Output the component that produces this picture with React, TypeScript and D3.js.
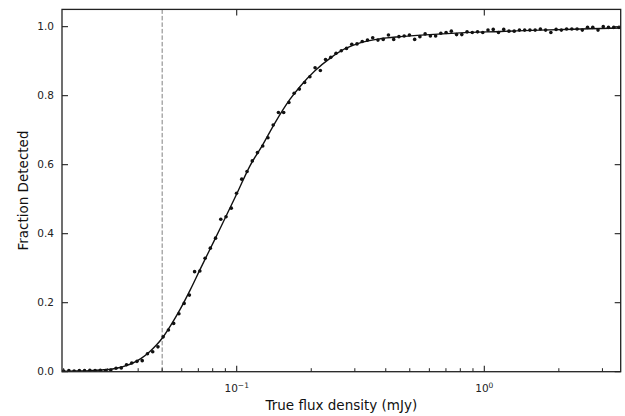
import React from "react";
import * as d3 from "d3";

// Measured points: true flux density (mJy) and fraction detected
const fluxValues = [
  0.02, 0.021, 0.02205, 0.02315, 0.0243, 0.02552, 0.02679, 0.02813, 0.02953, 0.03101,
  0.03256, 0.03418, 0.03589, 0.03768, 0.03956, 0.04154, 0.04361, 0.04579, 0.04808, 0.05048,
  0.053, 0.05564, 0.05842, 0.06134, 0.0644, 0.06761, 0.07099, 0.07453, 0.07825, 0.08216,
  0.08626, 0.09057, 0.09509, 0.09984, 0.1048, 0.1101, 0.1156, 0.1213, 0.1274, 0.1337,
  0.1404, 0.1474, 0.1548, 0.1625, 0.1706, 0.1791, 0.1881, 0.1975, 0.2073, 0.2177,
  0.2285, 0.2399, 0.2519, 0.2645, 0.2777, 0.2916, 0.3061, 0.3214, 0.3375, 0.3543,
  0.372, 0.3906, 0.4101, 0.4306, 0.4521, 0.4747, 0.4984, 0.5233, 0.5494, 0.5768,
  0.6056, 0.6359, 0.6676, 0.7009, 0.7359, 0.7726, 0.8112, 0.8517, 0.8942, 0.9388,
  0.9857, 1.0349, 1.0866, 1.1408, 1.1978, 1.2576, 1.3204, 1.3863, 1.4555, 1.5282,
  1.6045, 1.6846, 1.7687, 1.857, 1.9497, 2.047, 2.1492, 2.2565, 2.3692, 2.4875,
  2.6117, 2.7421, 2.879, 3.0227, 3.1736, 3.3321, 3.4984,
];
const fractionValues = [
  0.002, 0.003, 0.002, 0.003, 0.003, 0.004, 0.003, 0.004, 0.003, 0.005,
  0.010, 0.011, 0.020, 0.025, 0.030, 0.032, 0.052, 0.058, 0.072, 0.101,
  0.121, 0.140, 0.168, 0.198, 0.222, 0.290, 0.292, 0.329, 0.358, 0.387,
  0.442, 0.449, 0.474, 0.517, 0.558, 0.580, 0.611, 0.635, 0.654, 0.678,
  0.715, 0.751, 0.751, 0.780, 0.807, 0.819, 0.838, 0.855, 0.881, 0.873,
  0.905, 0.911, 0.923, 0.930, 0.937, 0.949, 0.950, 0.957, 0.961, 0.968,
  0.961, 0.963, 0.976, 0.963, 0.971, 0.973, 0.976, 0.963, 0.971, 0.979,
  0.973, 0.973, 0.981, 0.983, 0.987, 0.977, 0.977, 0.985, 0.983, 0.985,
  0.983, 0.990, 0.992, 0.983, 0.992, 0.987, 0.987, 0.990, 0.990, 0.990,
  0.990, 0.993, 0.990, 0.983, 0.992, 0.990, 0.993, 0.993, 0.993, 0.990,
  0.998, 0.998, 0.990, 1.000, 0.998, 0.998, 0.998,
];

// Fitted completeness curve
const fitFlux = [
  0.0197, 0.0225, 0.0255, 0.0285, 0.0315, 0.0345, 0.0375, 0.041, 0.0445, 0.0475,
  0.05, 0.054, 0.059, 0.065, 0.071, 0.078, 0.086, 0.1, 0.113, 0.127,
  0.143, 0.164, 0.18, 0.207, 0.238, 0.274, 0.315, 0.38, 0.457, 0.6,
  0.8, 1.16, 1.68, 2.44, 3.555,
];
const fitFraction = [
  0.001, 0.002, 0.003, 0.005, 0.008, 0.014, 0.023, 0.038, 0.058, 0.078,
  0.097, 0.133, 0.18, 0.238, 0.295, 0.355, 0.417, 0.515, 0.596, 0.656,
  0.722, 0.789, 0.826, 0.872, 0.908, 0.936, 0.953, 0.965, 0.971, 0.977,
  0.982, 0.986, 0.99, 0.993, 0.996,
];

const limitFlux = 0.05;
const xDomain = [0.0197, 3.555];
const yDomain = [0, 1.05];
const yTicks = [0, 0.2, 0.4, 0.6, 0.8, 1.0];
const xMajorTicks = [0.1, 1];
const xMajorLabels = ["\u22121", "0"];
const xMinorTicks = [
  0.02, 0.03, 0.04, 0.05, 0.06, 0.07, 0.08, 0.09,
  0.2, 0.3, 0.4, 0.5, 0.6, 0.7, 0.8, 0.9, 2, 3,
];

const W = 625;
const H = 416;
const left = 62;
const right = 620.7;
const top = 9.4;
const bottom = 371.7;
const FONT = "DejaVu Sans, sans-serif";

export default function App() {
  const x = d3.scaleLog().domain(xDomain).range([left, right]);
  const y = d3.scaleLinear().domain(yDomain).range([bottom, top]);

  const line = d3
    .line<number>()
    .x((_, i) => x(fitFlux[i]))
    .y((d) => y(d))
    .curve(d3.curveMonotoneX);

  const major = 6;
  const minor = 3.5;
  const axisColor = "#222";

  return (
    <svg
      width={W}
      height={H}
      style={{ position: "absolute", left: 0, top: 0, background: "#fff" }}
      fontFamily={FONT}
    >
      <defs>
        <clipPath id="plotclip">
          <rect x={left} y={top} width={right - left} height={bottom - top} />
        </clipPath>
      </defs>

      {/* dashed limit */}
      <line
        x1={x(limitFlux)}
        x2={x(limitFlux)}
        y1={top}
        y2={bottom}
        stroke="#808080"
        strokeWidth={1}
        strokeDasharray="4.5,2"
      />

      <g clipPath="url(#plotclip)">
        <path d={line(fitFraction) || ""} fill="none" stroke="#111" strokeWidth={1.4} />
        {fluxValues.map((f, i) => (
          <circle key={i} cx={x(f)} cy={y(fractionValues[i])} r={1.8} fill="#111" />
        ))}
      </g>

      {/* frame */}
      <rect
        x={left}
        y={top}
        width={right - left}
        height={bottom - top}
        fill="none"
        stroke={axisColor}
        strokeWidth={1.3}
      />

      {/* y ticks left & right */}
      {yTicks.map((t) => (
        <g key={"y" + t}>
          <line x1={left} x2={left + major} y1={y(t)} y2={y(t)} stroke={axisColor} strokeWidth={1.1} />
          <line x1={right} x2={right - major} y1={y(t)} y2={y(t)} stroke={axisColor} strokeWidth={1.1} />
          <text
            x={left - 8}
            y={y(t)}
            dy="0.35em"
            textAnchor="end"
            fontSize={10.5}
            fill="#222"
          >
            {t.toFixed(1)}
          </text>
        </g>
      ))}

      {/* x major ticks bottom & top */}
      {xMajorTicks.map((t, i) => (
        <g key={"x" + t}>
          <line x1={x(t)} x2={x(t)} y1={bottom} y2={bottom - major} stroke={axisColor} strokeWidth={1.1} />
          <line x1={x(t)} x2={x(t)} y1={top} y2={top + major} stroke={axisColor} strokeWidth={1.1} />
          <text x={x(t)} y={392} textAnchor="middle" fontSize={10.5} fill="#222">
            <tspan>10</tspan>
            <tspan dy={-4.5} fontSize={7.5}>
              {xMajorLabels[i]}
            </tspan>
          </text>
        </g>
      ))}

      {/* x minor ticks bottom */}
      {xMinorTicks.map((t) => (
        <line
          key={"m" + t}
          x1={x(t)}
          x2={x(t)}
          y1={bottom}
          y2={bottom - minor}
          stroke={axisColor}
          strokeWidth={1}
        />
      ))}

      {/* axis labels */}
      <text
        x={(left + right) / 2}
        y={410}
        textAnchor="middle"
        fontSize={13.5}
        fill="#111"
      >
        True flux density (mJy)
      </text>
      <text
        transform={`translate(28, ${(top + bottom) / 2}) rotate(-90)`}
        textAnchor="middle"
        fontSize={13.5}
        fill="#111"
      >
        Fraction Detected
      </text>
    </svg>
  );
}
